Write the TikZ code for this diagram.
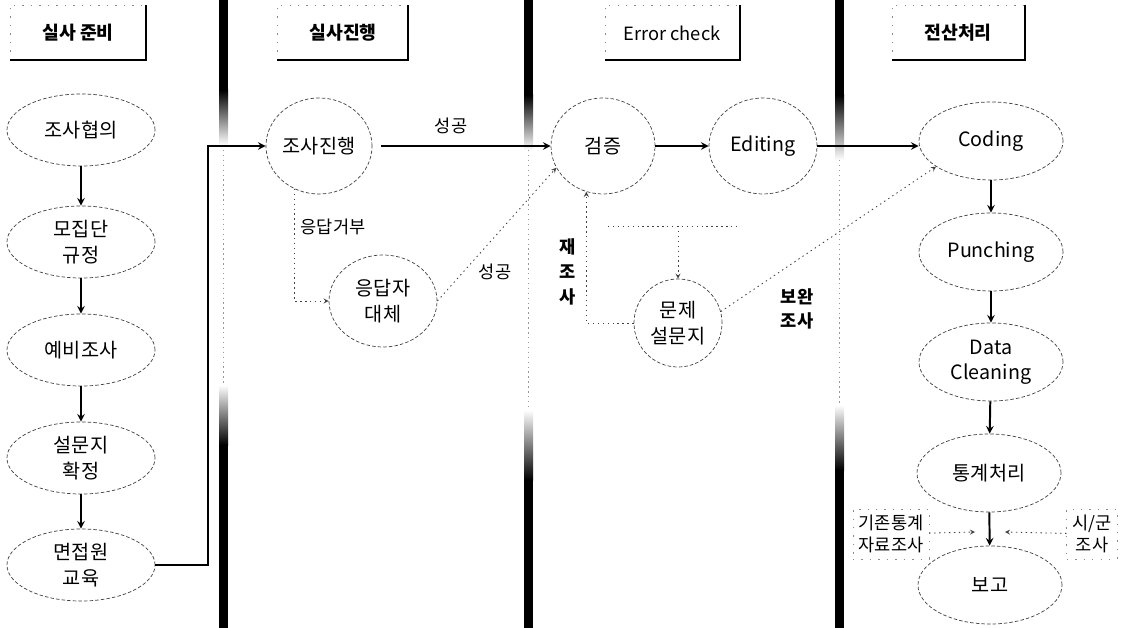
\documentclass[tikz,border=0pt]{standalone}
\usepackage{fontspec}
\setmainfont{Noto Sans CJK KR}
\usetikzlibrary{shapes.geometric}

\begin{document}
\begin{tikzpicture}[x=0.025cm, y=-0.025cm, >=stealth,
    oval/.style={ellipse, draw=black!75, line width=0.5pt, dash pattern=on 2.5pt off 1.5pt,
        minimum width=3.7cm, minimum height=1.8cm, inner sep=0pt, align=center,
        font=\fontsize{14}{18}\selectfont},
    flow/.style={->, line width=1.4pt},
    dots/.style={black!75, line width=0.6pt, dash pattern=on 1pt off 2.5pt},
    lbl/.style={align=center, font=\fontsize{12.5}{16}\selectfont},
    boldlbl/.style={align=center, font=\fontsize{12.5}{16.5}\bfseries\selectfont},
    head/.style={font=\fontsize{13}{15}\bfseries\selectfont},
    frame/.style={draw=black!45, line width=0.4pt, dash pattern=on 1pt off 5pt, inner sep=4pt}]
    \useasboundingbox (0,0) rectangle (1129,628);
    % headers
    \draw[black!45, line width=0.4pt, dash pattern=on 1pt off 5pt] (10,60) -- (10,5) -- (146,5);
    \draw[line width=1pt] (146,5) -- (146,60) -- (10,60);
    \node[head] (prep) at (78,33) {실사 준비};
    \draw[black!45, line width=0.4pt, dash pattern=on 1pt off 5pt] (277,60) -- (277,5) -- (408,5);
    \draw[line width=1pt] (408,5) -- (408,60) -- (277,60);
    \node[head] (run) at (343,33) {실사진행};
    \draw[black!45, line width=0.4pt, dash pattern=on 1pt off 5pt] (605,60) -- (605,5) -- (740,5);
    \draw[line width=1pt] (740,5) -- (740,60) -- (605,60);
    \node[head, font=\fontsize{13}{15}\selectfont] (check) at (672,33) {Error check};
    \draw[black!45, line width=0.4pt, dash pattern=on 1pt off 5pt] (892,60) -- (892,5) -- (1025,5);
    \draw[line width=1pt] (1025,5) -- (1025,60) -- (892,60);
    \node[head] (comp) at (958,33) {전산처리};
    % separators
    \fill (219,0) rectangle (228,90);
    \shade[top color=black, bottom color=white] (219,90) rectangle (228,145);
    \draw[dots, black!40] (223,145) -- (223,385);
    \shade[top color=white, bottom color=black] (219,385) rectangle (228,445);
    \fill (219,445) rectangle (228,628);
    \fill (524,0) rectangle (533,95);
    \shade[top color=black, bottom color=white] (524,95) rectangle (533,150);
    \draw[dots, black!40] (528,150) -- (528,410);
    \shade[top color=white, bottom color=black] (524,410) rectangle (533,480);
    \fill (524,480) rectangle (533,628);
    \fill (835,0) rectangle (844,95);
    \shade[top color=black, bottom color=white] (835,95) rectangle (844,160);
    \draw[dots, black!40] (839,160) -- (839,405);
    \shade[top color=white, bottom color=black] (835,405) rectangle (844,470);
    \fill (835,470) rectangle (844,628);
    % preparation
    \node[oval] (agree) at (81,130) {조사협의};
    \node[oval] (popul) at (81,242) {모집단\\규정};
    \node[oval] (pilot) at (81,350) {예비조사};
    \node[oval] (quest) at (81,458) {설문지\\확정};
    \node[oval] (train) at (81,565) {면접원\\교육};
    \draw[flow] (agree) -- (popul);
    \draw[flow] (popul) -- (pilot);
    \draw[flow] (pilot) -- (quest);
    \draw[flow] (quest) -- (train);
    % field work
    \node[oval, minimum width=2.65cm, minimum height=2.4cm] (field) at (319,146) {조사진행};
    \node[oval, minimum width=2.7cm, minimum height=2.3cm] (subst) at (383,301) {응답자\\대체};
    \draw[flow] (train.east) -- ++(53,0) |- (field.west);
    \node[lbl] (ok1) at (451,126) {성공};
    \node[lbl] (refuse) at (333,227) {응답거부};
    \node[lbl] (ok2) at (495,272) {성공};
    \draw[dots, ->] (field.240) |- (subst.west);
    % error check
    \node[oval, minimum width=2.6cm, minimum height=2.4cm] (verify) at (603,146) {검증};
    \node[oval, minimum width=2.7cm, minimum height=2.4cm] (edit) at (763,146) {Editing};
    \node[oval, minimum width=2.2cm, minimum height=2.2cm] (problem) at (678,323) {문제\\설문지};
    \draw[flow, shorten <=6pt] (field) -- (verify);
    \draw[dots, ->] (subst.east) -- (verify.205);
    \draw[flow] (verify) -- (edit);
    \node[boldlbl, font=\fontsize{12.5}{17.5}\bfseries\selectfont] (redo) at (568,272) {재\\조\\사};
    \draw[dots, ->] (problem.west) -| (verify.250);
    \coordinate (fromL) at (608,226);
    \coordinate (fromR) at (738,226);
    \coordinate (split) at (678,226);
    \draw[dots] (fromL) -- (fromR);
    \draw[dots, ->] (split) -- (problem.north);
    \node[boldlbl] (extra) at (797,309) {보완\\조사};
    % processing
    \node[oval, minimum width=3.6cm, minimum height=1.95cm] (coding) at (991,141) {Coding};
    \node[oval, minimum width=3.6cm, minimum height=1.95cm] (punch) at (991,252) {Punching};
    \node[oval, minimum width=3.6cm, minimum height=1.95cm] (clean) at (991,362) {Data\\Cleaning};
    \node[oval, minimum width=3.6cm, minimum height=1.95cm] (stats) at (989,473) {통계처리};
    \node[oval, minimum width=3.6cm, minimum height=1.95cm] (report) at (990,585) {보고};
    \draw[flow] (edit) -- (edit -| coding.west);
    \draw[dots, ->] (problem.15) -- (coding.205);
    \draw[flow] (coding) -- (punch);
    \draw[flow] (punch) -- (clean);
    \draw[flow] (clean) -- (stats);
    \draw[flow] (stats) -- (report);
    \node[lbl, frame] (exist) at (891,534) {기존통계\\자료조사};
    \node[lbl, frame] (city) at (1092,534) {시/군\\조사};
    \coordinate (inL) at (975,532);
    \coordinate (inR) at (1005,532);
    \draw[dots, ->] (exist) -- (inL);
    \draw[dots, ->] (city) -- (inR);
\end{tikzpicture}
\end{document}
